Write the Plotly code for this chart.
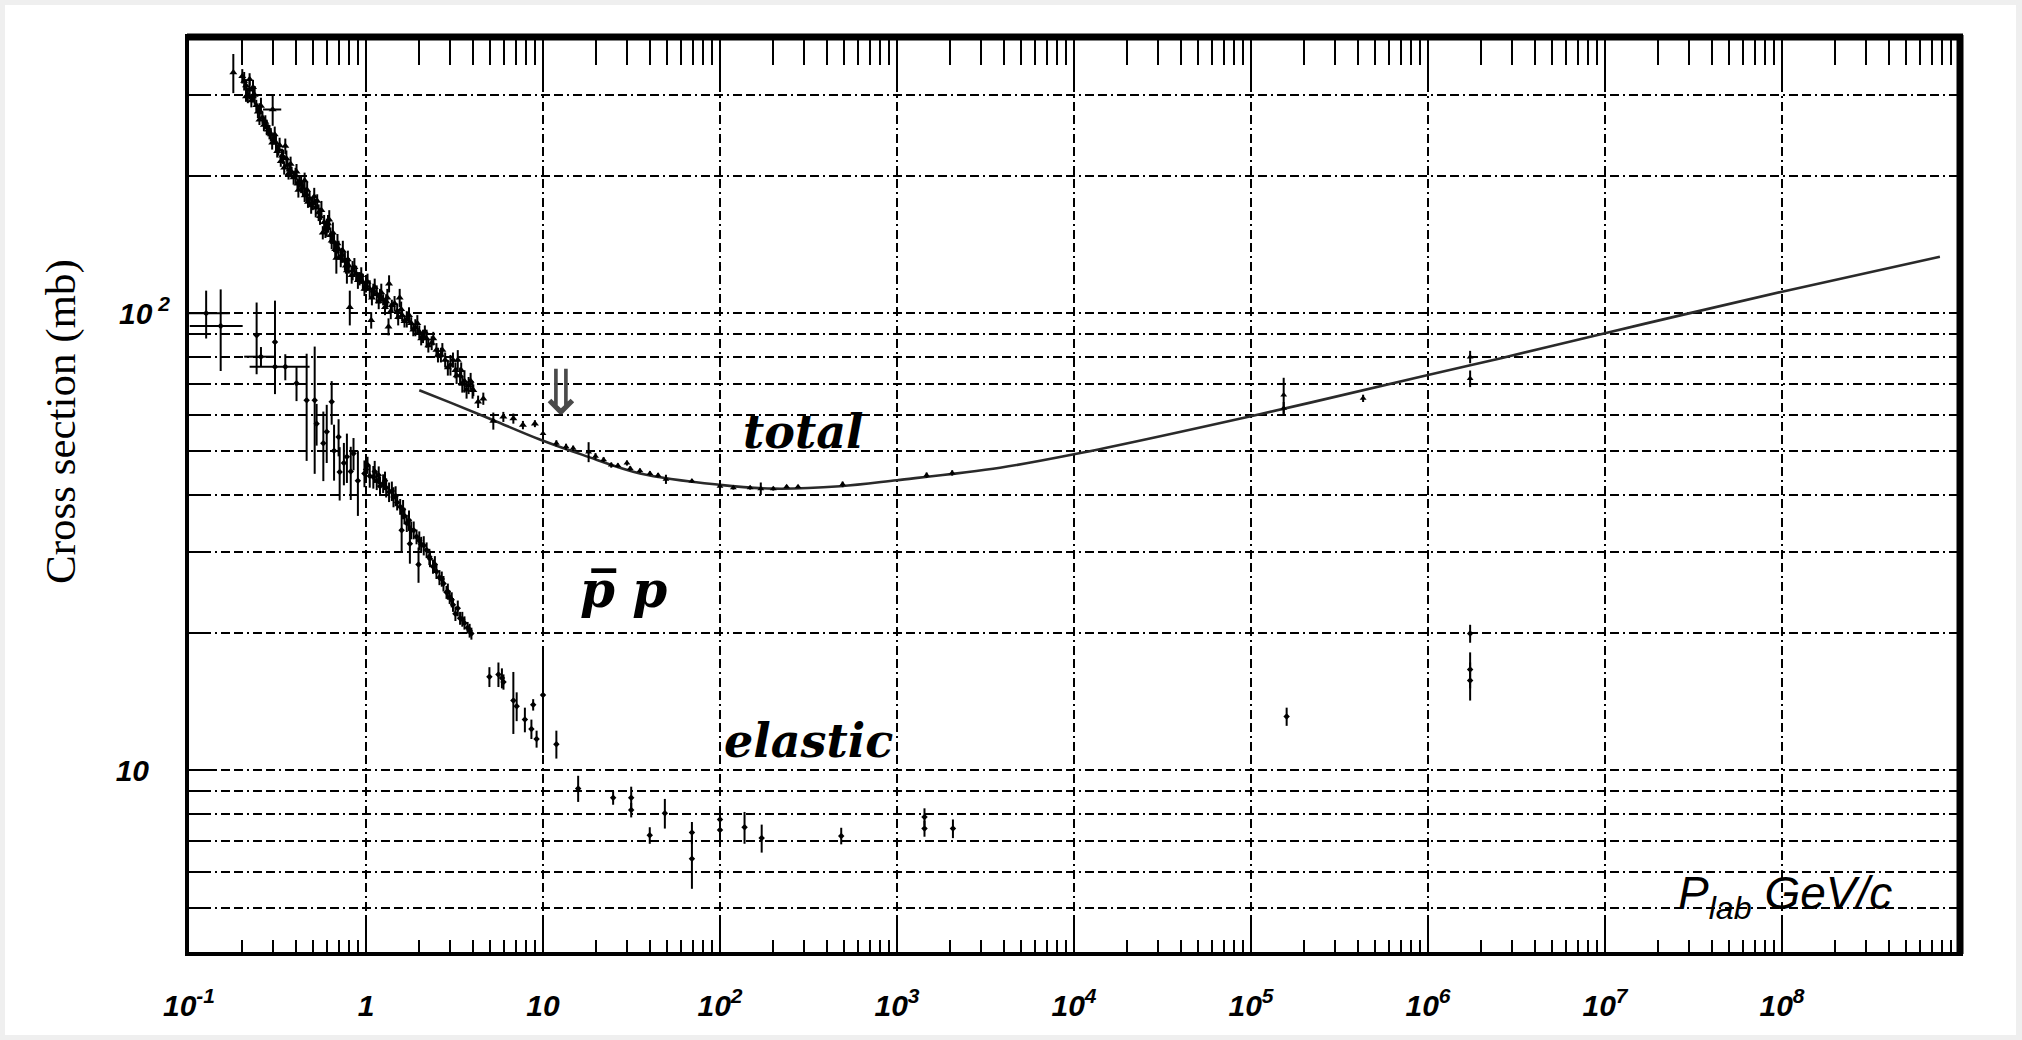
import plotly.graph_objects as go

# ---------------- data ----------------
# total p-bar p cross section, low momentum band
tot_lo_x = [0.178, 0.20, 0.21, 0.21, 0.22, 0.22, 0.23, 0.23, 0.24, 0.25, 0.25, 0.26, 0.27, 0.28, 0.29, 0.30,
            0.31, 0.32, 0.33, 0.34, 0.35, 0.36, 0.37, 0.38, 0.40, 0.41, 0.42, 0.44, 0.45, 0.46, 0.47,
            0.48, 0.50, 0.52, 0.53, 0.55, 0.57, 0.58, 0.60, 0.62, 0.63, 0.66, 0.68, 0.70, 0.73, 0.76,
            0.78, 0.80, 0.81, 0.84, 0.88, 0.92, 0.96, 1.0, 1.05, 1.07, 1.1, 1.15, 1.2, 1.25, 1.3,
            1.34, 1.35, 1.4, 1.5, 1.55, 1.6, 1.7, 1.8, 1.9, 2.0, 2.1, 2.2, 2.35, 2.5, 2.65,
            2.8, 3.0, 3.2, 3.3, 3.4, 3.5, 3.6, 3.8, 4.0, 4.04, 4.3, 4.6, 5.24, 5.97, 6.8,
            7.7, 9.0]
tot_lo_y = [336, 330, 315, 298, 308, 325, 298, 312, 285, 278, 265, 268, 262, 252, 246, 240,
            236, 228, 215, 220, 232, 211, 206, 203, 200, 192, 194, 188, 195, 182, 175,
            178, 174, 170, 176, 163, 150, 158, 154, 160, 148, 143, 132, 138, 134, 130,
            124, 127, 103, 124, 122, 119, 117, 115, 113, 96.5, 112, 110, 109, 107, 106,
            93.4, 116, 104, 101, 108, 99, 97, 95, 93, 91, 89, 88, 86, 83, 81,
            79, 77, 75, 79, 73, 70, 71, 69.5, 68, 67.8, 64, 65, 58.1, 59.3, 58.8,
            56.9, 57.3]
tot_lo_err = [33, 12, 10, 8, 14, 10, 9, 12, 8, 10, 7, 8, 9, 7, 8, 6,
              9, 7, 6, 8, 9, 6, 7, 6, 8, 5, 6, 7, 8, 6, 5,
              7, 6, 8, 6, 7, 5, 6, 7, 8, 6, 7, 10, 6, 5, 6,
              8, 5, 9, 6, 5, 4, 5, 4, 5, 4, 4, 5, 4, 3, 4,
              4, 5, 3, 4, 5, 3, 4, 3, 4, 3, 3, 4, 3, 3, 3,
              3, 4, 3, 4, 3, 3, 4, 3, 3, 2, 2, 2, 2.5, 1.5, 1.5,
              1.2, 1.0]

# more points of the same dense band
tot_band_x = [0.205, 0.215, 0.225, 0.235, 0.245, 0.255, 0.265, 0.275, 0.285, 0.295, 0.297, 0.305, 0.315,
              0.325, 0.335, 0.345, 0.355, 0.365, 0.375, 0.39, 0.405, 0.415, 0.43, 0.45, 0.465, 0.49,
              0.51, 0.54, 0.56, 0.59, 0.61, 0.64, 0.65, 0.67, 0.69, 0.72, 0.74, 0.77, 0.79, 0.83,
              0.86, 0.9, 0.94, 0.98, 1.02, 1.08, 1.12, 1.18, 1.22, 1.28, 1.32, 1.38, 1.45, 1.52,
              1.58, 1.65, 1.75, 1.85, 1.95, 2.05, 2.15, 2.25, 2.4, 2.55, 2.7, 2.9, 3.1, 3.25,
              3.45, 3.7, 3.9]
tot_band_y = [322, 300, 292, 300, 276, 284, 258, 255, 249, 236, 279, 246, 226,
              233, 221, 208, 218, 202, 212, 198, 204, 186, 191, 181, 186, 172,
              180, 166, 168, 152, 157, 144, 150, 138, 142, 132, 137, 127, 131, 121,
              126, 118, 121, 113, 117, 108, 114, 106, 111, 103, 108, 101, 105, 98,
              102, 96, 99, 92, 95, 88, 91, 85, 88, 81, 83, 76, 79, 73,
              75, 68, 71]
tot_band_err = [15, 12, 10, 14, 9, 12, 8, 10, 9, 8, 22, 10, 7,
                9, 8, 7, 9, 6, 8, 7, 8, 7, 8, 6, 8, 7,
                8, 7, 8, 6, 7, 6, 8, 6, 7, 6, 7, 5, 6, 5,
                6, 5, 5, 4, 5, 4, 5, 4, 5, 4, 5, 4, 4, 4,
                4, 3, 4, 3, 4, 3, 3, 3, 3, 3, 3, 3, 3, 3,
                3, 3, 3]
tot_band_xerr = [0, 0, 0, 0, 0, 0, 0, 0, 0, 0, 0.035, 0, 0,
                 0, 0, 0, 0, 0, 0, 0, 0, 0, 0, 0, 0, 0,
                 0, 0, 0, 0, 0, 0, 0, 0, 0, 0, 0, 0, 0, 0,
                 0, 0, 0, 0, 0, 0, 0, 0, 0, 0, 0, 0, 0, 0,
                 0, 0, 0, 0, 0, 0, 0, 0, 0, 0, 0, 0, 0, 0,
                 0, 0, 0]

# total cross section, 10 GeV/c and above
tot_hi_x = [10.0, 11.9, 13.5, 14.8, 18.1, 19.8, 22.0, 24.3, 26.5, 29.8, 31.1, 35.3, 40.2, 44.7, 49.5,
            69.4, 100, 119, 148, 170, 200, 238, 276, 493, 1470, 2050,
            1.53e5, 1.53e5, 4.3e5, 1.73e6, 1.73e6]
tot_hi_y = [54.5, 51.9, 51.0, 50.6, 49.7, 48.6, 47.8, 46.5, 46.4, 47.0, 45.7, 45.2, 44.6, 44.2, 43.3,
            42.9, 41.8, 41.5, 41.5, 41.3, 41.3, 41.7, 41.7, 42.2, 44.2, 44.7,
            66.2, 61.9, 65.1, 80.2, 71.9]
tot_hi_err = [1.5, 0.8, 0.8, 0.7, 2.5, 0.8, 0.6, 0.6, 0.5, 0.6, 0.5, 0.5, 0.5, 0.5, 1.0,
              0.4, 1.3, 0.4, 0.4, 1.3, 0.4, 0.3, 0.3, 0.6, 0.6, 0.6,
              6.0, 2.0, 1.2, 2.5, 3.0]

# elastic cross section
ela_x = [0.125, 0.151, 0.241, 0.255, 0.306, 0.306, 0.35, 0.405, 0.462, 0.513, 0.526, 0.574, 0.60, 0.64,
         0.66, 0.70, 0.71, 0.75, 0.78, 0.82, 0.85, 0.90, 0.98, 1.0, 1.05, 1.1, 1.15, 1.2,
         1.25, 1.3, 1.35, 1.43, 1.5, 1.56, 1.59, 1.65, 1.7, 1.77, 1.8, 1.93, 1.98, 2.05,
         2.2, 2.3, 2.39, 2.5, 2.6, 2.74, 2.85, 2.97, 3.1, 3.2, 3.4, 3.6, 3.75, 3.94,
         1.02, 1.12, 1.18, 1.28, 1.4, 1.47, 1.62, 1.75, 1.86, 2.0, 2.12, 2.28, 2.45, 2.68,
         2.9, 3.05, 3.3, 3.5, 3.85,
         4.98, 5.6, 5.86, 5.98, 6.8, 7.1, 7.9, 8.6, 8.8, 9.2, 10.0, 11.9, 15.8, 24.9,
         31.5, 31.5, 40.1, 48.8, 69.4, 69.4, 100, 100, 137.6, 172, 484, 1430, 1430, 2070,
         1.59e5, 1.73e6, 1.73e6, 1.73e6]
ela_y = [100, 93.7, 89.5, 80.3, 86.5, 76.3, 76.3, 70.2, 64.5, 64.5, 57.3, 51.9, 55, 64,
         50, 53.6, 44.9, 47, 48.5, 45, 49.3, 43, 44.6, 45.5, 44, 43.8, 43, 41.8,
         42.4, 41.5, 40.6, 39.6, 38.5, 37.7, 33.5, 36, 34.7, 31.3, 33.5, 32.4, 28.2, 31.2,
         30.3, 29, 27.9, 27.2, 26.4, 25.6, 24.5, 23.9, 23, 22.0, 21.5, 21.0, 20.5, 19.9,
         46.5, 45, 44.2, 43.0, 40.8, 39.8, 37.2, 35.2, 33.5, 31.8, 31.0, 29.3, 28.2, 26.2,
         24.6, 23.6, 22.6, 21.4, 20.2,
         16.0, 16.2, 15.9, 15.6, 14.2, 13.8, 12.9, 12.3, 13.9, 11.7, 14.6, 11.4, 9.12, 8.7,
         8.7, 8.18, 7.2, 8.05, 7.3, 6.4, 7.8, 7.4, 7.5, 7.1, 7.18, 7.9, 7.45, 7.45,
         13.1, 19.9, 16.6, 15.7]
ela_err = [12, 19, 16, 4, 20, 6, 5, 6, 17, 20, 6, 9, 8, 7,
           7, 5, 6, 5, 6, 6, 4, 7, 3, 3, 2.5, 2.5, 2, 2,
           2, 2, 2, 2, 1.5, 1.5, 3.5, 1.5, 1.5, 3, 1.5, 1.2, 2.5, 1.2,
           1.2, 1.2, 1.0, 1.0, 1.0, 1.0, 0.8, 0.8, 0.8, 0.8, 0.7, 0.7, 0.6, 0.6,
           2, 2.5, 2, 2, 2, 2, 1.8, 1.8, 1.5, 1.5, 1.5, 1.2, 1.2, 1.0,
           1.0, 0.9, 0.9, 0.8, 0.7,
           0.8, 1.0, 0.8, 0.6, 2.2, 1.0, 0.8, 0.6, 0.4, 0.5, 3.7, 0.8, 0.6, 0.3,
           0.5, 0.3, 0.3, 0.6, 0.4, 0.9, 0.5, 0.4, 0.6, 0.5, 0.3, 0.35, 0.3, 0.35,
           0.6, 0.9, 1.5, 1.5]
ela_xerr = [0.045, 0.05, 0, 0.05, 0, 0, 0.13, 0, 0, 0, 0, 0, 0, 0,
            0, 0, 0, 0, 0, 0, 0, 0, 0, 0, 0, 0, 0, 0,
            0, 0, 0, 0, 0, 0, 0, 0, 0, 0, 0, 0, 0, 0,
            0, 0, 0, 0, 0, 0, 0, 0, 0, 0, 0, 0, 0, 0,
            0, 0, 0, 0, 0, 0, 0, 0, 0, 0, 0, 0, 0, 0,
            0, 0, 0, 0, 0,
            0, 0, 0, 0, 0, 0, 0, 0, 0, 0, 0, 0, 0, 0,
            0, 0, 0, 0, 0, 0, 0, 0, 0, 0, 0, 0, 0, 0,
            0, 0, 0, 0]

# fitted curve for the total cross section
fit_x = [2.0, 3.0, 5.24, 9.6, 16.9, 35.3, 100, 200, 476, 1000, 3820, 1e4, 1.12e5, 1e6, 2.55e6,
         1e7, 2.7e7, 1e8, 7.8e8]
fit_y = [67.8, 63.7, 58.3, 52.9, 48.9, 44.6, 42.1, 41.3, 41.8, 43.1, 45.9, 49.1, 60.1, 73.2, 79.6,
         90.4, 99.0, 111.4, 132.8]

# axis ticks
x_major = [10.0 ** k for k in range(-1, 9)]
x_labels = ["10<sup>-1</sup>", "1", "10", "10<sup>2</sup>", "10<sup>3</sup>", "10<sup>4</sup>",
            "10<sup>5</sup>", "10<sup>6</sup>", "10<sup>7</sup>", "10<sup>8</sup>"]
x_minor = [m * 10.0 ** k for k in range(-1, 9) for m in range(2, 10)]
y_major = [10, 100]
y_labels = ["10\u2002\u2009", "10<sup> 2</sup>"]
y_minor = [5, 6, 7, 8, 9, 20, 30, 40, 50, 60, 70, 80, 90, 200, 300]

# ---------------- figure ----------------
W, H = 2022, 1040
L, R, T, B = 189, 63, 38, 88
PW, PH = W - L - R, H - T - B


def px(X):
    return (X - L) / PW


def py(Y):
    return (H - B - Y) / PH


GRID_DASH = "9px,4px,9px,4px,2px,4px"
ebar = dict(type="data", visible=True, color="black", thickness=2, width=0)

fig = go.Figure()

fig.add_trace(go.Scatter(
    x=fit_x, y=fit_y, mode="lines", line=dict(color="#2a2a2a", width=2.6, shape="spline", smoothing=1.0),
    hoverinfo="skip", showlegend=False))

fig.add_trace(go.Scatter(
    x=tot_lo_x, y=tot_lo_y, mode="markers",
    marker=dict(symbol="triangle-up", size=7, color="black"),
    error_y=dict(array=tot_lo_err, **ebar), showlegend=False))

fig.add_trace(go.Scatter(
    x=tot_band_x, y=tot_band_y, mode="markers",
    marker=dict(symbol="triangle-up", size=7, color="black"),
    error_y=dict(array=tot_band_err, **ebar),
    error_x=dict(array=tot_band_xerr, **ebar), showlegend=False))

fig.add_trace(go.Scatter(
    x=tot_hi_x, y=tot_hi_y, mode="markers",
    marker=dict(symbol="triangle-up", size=6, color="black"),
    error_y=dict(array=tot_hi_err, **ebar), showlegend=False))

fig.add_trace(go.Scatter(
    x=ela_x, y=ela_y, mode="markers",
    marker=dict(symbol="diamond", size=5, color="black"),
    error_y=dict(array=ela_err, **ebar),
    error_x=dict(array=ela_xerr, **ebar), showlegend=False))

tickfont = dict(family="Liberation Sans, Arial, sans-serif", size=30, color="black",
                weight="bold", style="italic")

fig.update_layout(
    width=W, height=H,
    margin=dict(l=L, r=R, t=T, b=B, pad=0),
    paper_bgcolor="#efefef",
    plot_bgcolor="white",
    showlegend=False,
    xaxis=dict(
        type="log", range=[-1, 9], showline=True, linecolor="black", linewidth=4, mirror=True,
        tickmode="array", tickvals=x_major, ticktext=x_labels, ticks="inside", ticklen=28,
        tickwidth=2, tickcolor="black", tickfont=tickfont, ticklabelstandoff=24,
        showgrid=True, gridcolor="black", gridwidth=1.5, griddash=GRID_DASH, zeroline=False,
        minor=dict(tickmode="array", tickvals=x_minor, ticks="inside", ticklen=12, tickwidth=2,
                   tickcolor="black", showgrid=False),
    ),
    xaxis2=dict(
        type="log", range=[-1, 9], overlaying="x", side="top", anchor="y", showline=False,
        tickmode="array", tickvals=x_major, ticks="inside", ticklen=53, tickwidth=2,
        tickcolor="black", showticklabels=False, showgrid=False, zeroline=False,
        minor=dict(tickmode="array", tickvals=x_minor, ticks="inside", ticklen=27, tickwidth=2,
                   tickcolor="black", showgrid=False),
    ),
    yaxis=dict(
        type="log", range=[0.60206, 2.60206], showline=True, linecolor="black", linewidth=4,
        mirror=True, tickmode="array", tickvals=y_major, ticktext=y_labels, ticks="inside",
        ticklen=27, tickwidth=2, tickcolor="black", tickfont=tickfont, ticklabelstandoff=9,
        showgrid=True, gridcolor="black", gridwidth=1.5, griddash=GRID_DASH, zeroline=False,
        minor=dict(tickmode="array", tickvals=y_minor, ticks="inside", ticklen=13, tickwidth=2,
                   tickcolor="black", showgrid=True, gridcolor="black", gridwidth=1.5,
                   griddash=GRID_DASH),
    ),
)

# the top tick axis is bound to an invisible copy of the fitted curve
fig.add_trace(go.Scatter(x=fit_x, y=fit_y, xaxis="x2", yaxis="y", mode="lines",
                         line=dict(width=0), opacity=0, hoverinfo="skip", showlegend=False))

# page and frame
fig.add_shape(type="rect", xref="paper", yref="paper", x0=px(5), x1=px(2016), y0=py(1035), y1=py(5),
              fillcolor="white", line=dict(width=0), layer="below")
fig.add_shape(type="line", xref="paper", yref="paper", x0=px(L - 2), x1=px(L + PW + 4), y0=py(T - 1), y1=py(T - 1),
              line=dict(color="black", width=7))
fig.add_shape(type="line", xref="paper", yref="paper", x0=px(L + PW + 1), x1=px(L + PW + 1), y0=py(H - B + 2), y1=py(T - 3),
              line=dict(color="black", width=7))

serif_bi = dict(family="DejaVu Serif", size=46, color="black", weight="bold", style="italic")

fig.add_annotation(x=px(803), y=py(432), xref="paper", yref="paper", text="total", showarrow=False,
                   font=serif_bi, xanchor="center", yanchor="middle")
fig.add_annotation(x=px(808), y=py(741), xref="paper", yref="paper", text="elastic", showarrow=False,
                   font=serif_bi, xanchor="center", yanchor="middle")
fig.add_annotation(x=px(623), y=py(589), xref="paper", yref="paper", text="p\u0305 p", showarrow=False,
                   font=dict(family="DejaVu Serif", size=50, color="black", weight="bold", style="italic"),
                   xanchor="center", yanchor="middle")
fig.add_annotation(x=px(561), y=py(392), xref="paper", yref="paper", text="\u21d3", showarrow=False,
                   font=dict(family="DejaVu Sans", size=62, color="#4a4a4a"), xanchor="center", yanchor="middle")
fig.add_annotation(x=px(1676), y=py(896), xref="paper", yref="paper",
                   text="<i>P<sub>lab</sub> GeV/c</i>", showarrow=False,
                   font=dict(family="Liberation Sans, Arial, sans-serif", size=46, color="black"),
                   xanchor="left", yanchor="middle")
fig.add_annotation(x=px(61), y=py(422), xref="paper", yref="paper", text="Cross section (mb)",
                   showarrow=False, textangle=-90,
                   font=dict(family="Liberation Serif, Times New Roman, serif", size=43, color="black"),
                   xanchor="center", yanchor="middle")

fig.write_html("out.html", config={"displayModeBar": False},
               post_script="document.body.style.margin='0';document.body.style.padding='0';")
